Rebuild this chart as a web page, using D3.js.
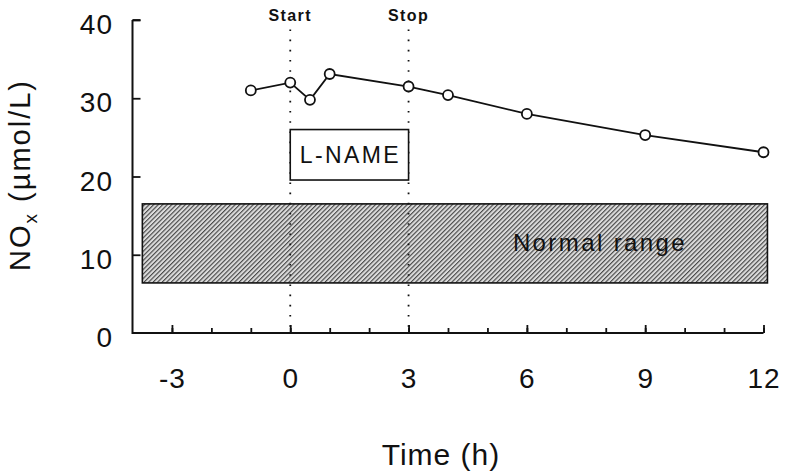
<!DOCTYPE html>
<html>
<head>
<meta charset="utf-8">
<script src="https://cdn.jsdelivr.net/npm/d3@7"></script>
<style>
  html, body { margin: 0; padding: 0; background: #fff; }
  svg { display: block; font-family: "Liberation Sans", Arial, Helvetica, sans-serif; }
</style>
</head>
<body>
<svg id="chart" width="785" height="473"></svg>
<script>
// ---- data ----
const times = [-1, 0, 0.5, 1, 3, 4, 6, 9, 12];
const noxValues = [31.0, 32.0, 29.8, 33.1, 31.5, 30.4, 28.0, 25.3, 23.1];
const xMajorTicks = [-3, 0, 3, 6, 9, 12];
const xMinorTicks = [-3, -2, -1, 0, 1, 2, 3, 4, 5, 6, 7, 8, 9, 10, 11, 12];
const yTicks = [0, 10, 20, 30, 40];
const normalRange = [6.4, 16.5];      // µmol/L
const normalRangeTime = [-3.75, 12.1]; // h
const infusion = { start: 0, stop: 3, label: "L-NAME", boxLow: 19.55, boxHigh: 26.0 };
const markers = [{ t: 0, label: "Start" }, { t: 3, label: "Stop" }];

const svg = d3.select("#chart");
const x = d3.scaleLinear().domain([-4, 12]).range([132.5, 763.5]);
const y = d3.scaleLinear().domain([0, 40]).range([333, 20]);

// hatch pattern
const defs = svg.append("defs");
const pat = defs.append("pattern")
  .attr("id", "hatch").attr("patternUnits", "userSpaceOnUse")
  .attr("width", 3.2).attr("height", 3.2)
  .attr("patternTransform", "rotate(45)");
pat.append("rect").attr("width", 3.2).attr("height", 3.2).attr("fill", "#dcdcdc");
pat.append("line").attr("x1", 0.6).attr("y1", 0).attr("x2", 0.6).attr("y2", 3.2)
  .attr("stroke", "#333").attr("stroke-width", 1.0);

// normal range box
svg.append("rect")
  .attr("x", x(normalRangeTime[0]))
  .attr("y", y(normalRange[1]))
  .attr("width", x(normalRangeTime[1]) - x(normalRangeTime[0]))
  .attr("height", y(normalRange[0]) - y(normalRange[1]))
  .attr("fill", "url(#hatch)")
  .attr("stroke", "#111").attr("stroke-width", 1.6);

svg.append("text")
  .attr("x", 600).attr("y", 251)
  .attr("text-anchor", "middle")
  .attr("font-size", 24).attr("letter-spacing", 2.4)
  .attr("fill", "#111")
  .text("Normal range");

// dotted start/stop lines
markers.forEach(m => {
  svg.append("line")
    .attr("x1", x(m.t)).attr("x2", x(m.t))
    .attr("y1", y(38.8)).attr("y2", y(0))
    .attr("stroke", "#111").attr("stroke-width", 1.8)
    .attr("stroke-dasharray", "1.6,8.6");
  svg.append("text")
    .attr("x", x(m.t)).attr("y", 21)
    .attr("text-anchor", "middle")
    .attr("font-size", 16).attr("font-weight", "bold").attr("letter-spacing", 1.4)
    .attr("fill", "#111")
    .text(m.label);
});

// L-NAME box
svg.append("rect")
  .attr("x", x(infusion.start)).attr("y", y(infusion.boxHigh))
  .attr("width", x(infusion.stop) - x(infusion.start))
  .attr("height", y(infusion.boxLow) - y(infusion.boxHigh))
  .attr("fill", "#fff").attr("stroke", "#111").attr("stroke-width", 1.6);
svg.append("text")
  .attr("x", (x(infusion.start) + x(infusion.stop)) / 2 + 1)
  .attr("y", 163)
  .attr("text-anchor", "middle")
  .attr("font-size", 23).attr("letter-spacing", 2.4)
  .attr("fill", "#111")
  .text(infusion.label);

// axes
const yAxis = d3.axisLeft(y).tickValues(yTicks.filter(v => v > 0))
  .tickSizeInner(-8).tickSizeOuter(0).tickPadding(20).tickFormat(d => String(d));
const gy = svg.append("g").attr("transform", `translate(${x(-4)},0)`).call(yAxis);
gy.select(".domain").remove();
gy.selectAll(".tick line").attr("stroke", "#111").attr("stroke-width", 1.8);
gy.selectAll(".tick text").remove();
// y labels incl 0
svg.append("g").selectAll("text").data(yTicks).join("text")
  .attr("x", 113).attr("y", d => y(d) + 14)
  .attr("text-anchor", "end")
  .attr("font-size", 28).attr("letter-spacing", 1)
  .attr("fill", "#111")
  .text(d => String(d));

const xMinor = d3.axisBottom(x).tickValues(xMinorTicks)
  .tickSizeInner(-5).tickSizeOuter(0).tickFormat("");
const gxm = svg.append("g").attr("transform", `translate(0,${y(0)})`).call(xMinor);
gxm.select(".domain").remove();
gxm.selectAll(".tick line").attr("stroke", "#111").attr("stroke-width", 1.8);

const xMajor = d3.axisBottom(x).tickValues(xMajorTicks)
  .tickSizeInner(-8).tickSizeOuter(0).tickPadding(35).tickFormat(d => String(d));
const gx = svg.append("g").attr("transform", `translate(0,${y(0)})`).call(xMajor);
gx.select(".domain").remove();
gx.selectAll(".tick line").attr("stroke", "#111").attr("stroke-width", 1.8);
gx.selectAll(".tick text")
  .attr("font-size", 28).attr("font-family", "Liberation Sans, Arial, sans-serif")
  .attr("fill", "#111").attr("dy", "0.71em").attr("letter-spacing", 1);

// axis lines (L-shape)
svg.append("path")
  .attr("d", `M${x(-4)},${y(40)} L${x(-4)},${y(0)} L${x(12)},${y(0)}`)
  .attr("fill", "none").attr("stroke", "#111").attr("stroke-width", 2);
svg.append("line")
  .attr("x1", x(-4)).attr("x2", x(-4) + 8).attr("y1", y(40)).attr("y2", y(40))
  .attr("stroke", "#111").attr("stroke-width", 1.8);

// data line and points
const pts = times.map((t, i) => ({ t, v: noxValues[i] }));
svg.append("path").datum(pts)
  .attr("d", d3.line().x(d => x(d.t)).y(d => y(d.v)))
  .attr("fill", "none").attr("stroke", "#111").attr("stroke-width", 1.8);
svg.append("g").selectAll("circle").data(pts).join("circle")
  .attr("cx", d => x(d.t)).attr("cy", d => y(d.v)).attr("r", 5)
  .attr("fill", "#fff").attr("stroke", "#111").attr("stroke-width", 1.8);

// axis titles
svg.append("text")
  .attr("x", 441).attr("y", 465)
  .attr("text-anchor", "middle")
  .attr("font-size", 30).attr("letter-spacing", 1)
  .attr("fill", "#111")
  .text("Time (h)");

const yt = svg.append("text")
  .attr("transform", "translate(30,175) rotate(-90)")
  .attr("text-anchor", "middle")
  .attr("font-size", 29).attr("letter-spacing", 2)
  .attr("fill", "#111");
yt.append("tspan").text("NO");
yt.append("tspan").attr("font-size", 19).attr("dy", 7).text("x");
yt.append("tspan").attr("dy", -7).text(" (µmol/L)");
</script>
</body>
</html>
